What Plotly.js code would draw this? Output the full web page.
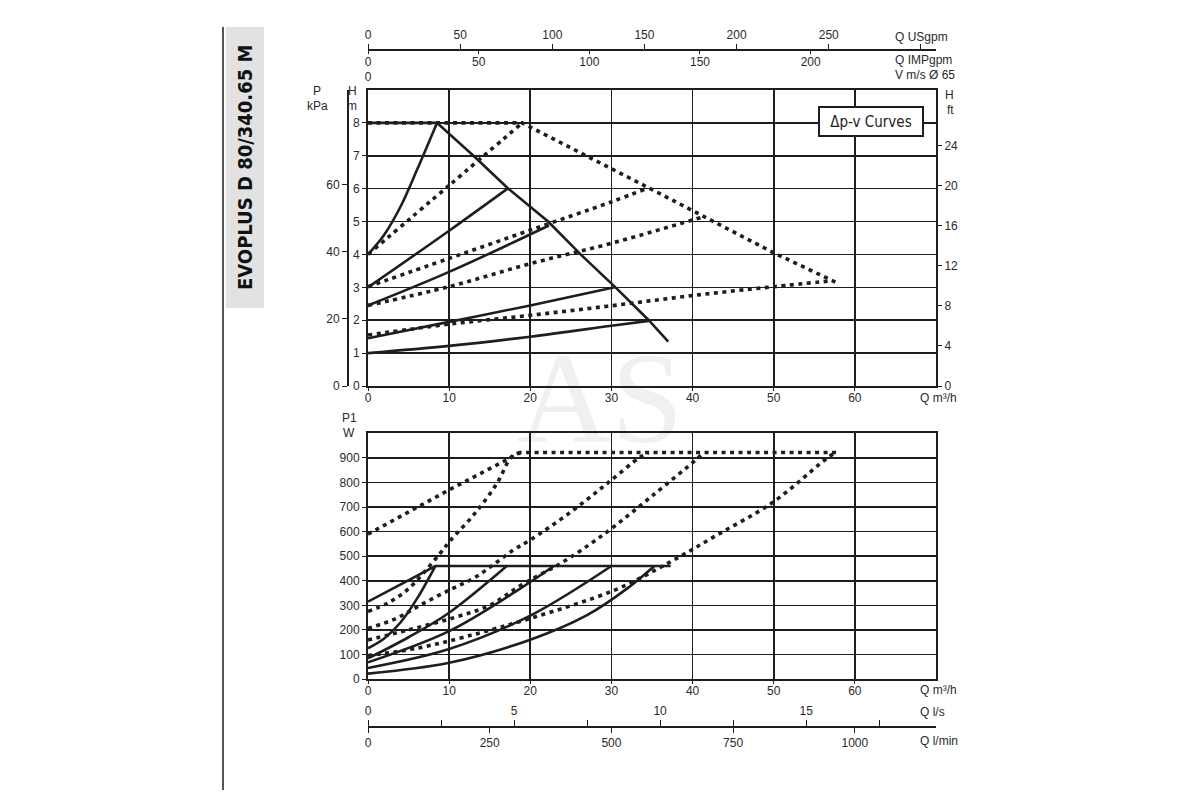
<!DOCTYPE html>
<html>
<head>
<meta charset="utf-8">
<script src="https://cdn.plot.ly/plotly-3.0.1.min.js"></script>
<style>
  html, body { margin: 0; padding: 0; background: #fff; }
  #chart { width: 1200px; height: 800px; }
</style>
</head>
<body>
<div id="chart"></div>
<script>
// ---- Q-H (top) : solid = single pump, dotted = twin pump ----
var qMaxS = [0, 8.5, 13.0, 17.3, 22.2, 26.2, 30.5, 34.6, 37.0];
var hMaxS = [8, 8, 7, 6, 5, 4, 3, 2, 1.35];
var qS4 = [0, 2, 4, 6, 8.5];
var hS4 = [4, 4.6, 5.45, 6.55, 8];
var qS3 = [0, 10, 17.2];
var hS3 = [3, 4.72, 6];
var qS245 = [0, 10, 22.3];
var hS245 = [2.45, 3.47, 4.88];
var qS145 = [0, 10, 20, 30.4];
var hS145 = [1.45, 1.95, 2.45, 3.0];
var qS1 = [0, 10, 20, 30, 34.6];
var hS1 = [1, 1.22, 1.5, 1.83, 1.98];

var qMaxD = [0, 19, 34.4, 50, 57.7];
var hMaxD = [8, 8, 6.05, 4.05, 3.15];
var qD4 = [0, 10, 19];
var hD4 = [4, 6.1, 8];
var qD3 = [0, 10, 20, 30, 34.3];
var hD3 = [3.02, 3.88, 4.74, 5.6, 6.0];
var qD245 = [0, 10, 20, 30, 41.4];
var hD245 = [2.45, 3.02, 3.72, 4.34, 5.15];
var qD15 = [0, 10, 20, 30, 40, 50, 57.2];
var hD15 = [1.55, 1.88, 2.15, 2.44, 2.75, 3.02, 3.2];

// ---- Q-P1 (bottom) ----
var qPMaxS = [0, 8.3, 37.3];
var pPMaxS = [315, 460, 460];
var qP4 = [0, 2, 4, 6, 8.3];
var pP4 = [125, 165, 230, 325, 460];
var qP3 = [0, 5, 10, 17.1];
var pP3 = [84, 170, 270, 460];
var qP245 = [0, 10, 18.8, 22.9];
var pP245 = [68, 195, 369, 460];
var qP145 = [0, 10, 20, 30];
var pP145 = [45, 122, 258, 460];
var qP1 = [0, 10, 20, 27, 32, 35.3];
var pP1 = [22, 66, 160, 260, 370, 460];

var qPMaxD = [0, 10, 18.8, 57.7];
var pPMaxD = [590, 770, 922, 922];
var qPD4 = [0, 2.5, 4.8, 6.8, 8.9, 10.2, 13.2, 15.9, 17.7, 18.8];
var pPD4 = [275, 310, 362, 430, 512, 566, 675, 797, 905, 922];
var qPD3 = [0, 3.5, 6.4, 10, 13, 15.4, 17.9, 20, 25, 29.5, 33.6, 34.6];
var pPD3 = [206, 247, 300, 362, 410, 464, 525, 566, 680, 797, 905, 922];
var qPD245 = [0, 5, 10.6, 15, 19, 23.7, 27.4, 30.3, 35, 40.4, 41.4];
var pPD245 = [159, 200, 250, 300, 385, 470, 550, 620, 745, 892, 922];
var qPD15 = [0, 6, 12, 20, 30.4, 37.1, 43, 50, 56.8, 57.7];
var pPD15 = [95, 125, 172, 247, 362, 474, 586, 722, 905, 922];

// ---- axis ticks ----
var qTicks = [0, 10, 20, 30, 40, 50, 60];
var hTicks = [0, 1, 2, 3, 4, 5, 6, 7, 8];
var kpaTicks = [0, 20, 40, 60];
var ftTicks = [0, 4, 8, 12, 16, 20, 24];
var usgpmTicks = [0, 50, 100, 150, 200, 250, 300];
var usgpmLabels = ['0', '50', '100', '150', '200', '250', ''];
var impTicks = [0, 50, 100, 150, 200];
var wTicks = [0, 100, 200, 300, 400, 500, 600, 700, 800, 900];
var lsTicks = [0, 2.5, 5, 7.5, 10, 12.5, 15, 17.5];
var lsLabels = ['0', '', '5', '', '10', '', '15', ''];
var lminTicks = [0, 250, 500, 750, 1000];

var Q_MAX = 70;   // m3/h at right frame
var H_MAX = 9;    // m at top frame

function X(px) { return px / 1200; }
function Y(py) { return 1 - py / 800; }

var INK = '#1e1e1e';
var FONT = 'Liberation Sans, Arial, sans-serif';
var NARROW = 'DejaVu Sans Condensed, Liberation Sans Narrow, sans-serif';

function solid(x, y, xa, ya, shape) {
  return { x: x, y: y, xaxis: xa, yaxis: ya, type: 'scatter', mode: 'lines',
    line: { color: INK, width: 2.6, shape: shape || 'spline', smoothing: 1 },
    hoverinfo: 'skip', showlegend: false };
}
function dotted(x, y, xa, ya, shape) {
  return { x: x, y: y, xaxis: xa, yaxis: ya, type: 'scatter', mode: 'lines',
    line: { color: INK, width: 3.6, dash: '4px,4.5px', shape: shape || 'spline', smoothing: 1 },
    hoverinfo: 'skip', showlegend: false };
}
// empty trace so that a secondary scale axis gets drawn
function carrier(xa, ya) {
  return { x: [null], y: [null], xaxis: xa, yaxis: ya, type: 'scatter', mode: 'markers',
    hoverinfo: 'skip', showlegend: false };
}

var data = [
  solid(qMaxS, hMaxS, 'x', 'y', 'linear'),
  solid(qS4, hS4, 'x', 'y'),
  solid(qS3, hS3, 'x', 'y'),
  solid(qS245, hS245, 'x', 'y'),
  solid(qS145, hS145, 'x', 'y'),
  solid(qS1, hS1, 'x', 'y'),
  dotted(qMaxD, hMaxD, 'x', 'y', 'linear'),
  dotted(qD4, hD4, 'x', 'y'),
  dotted(qD3, hD3, 'x', 'y'),
  dotted(qD245, hD245, 'x', 'y'),
  dotted(qD15, hD15, 'x', 'y'),

  solid(qPMaxS, pPMaxS, 'x5', 'y4', 'linear'),
  solid(qP4, pP4, 'x5', 'y4'),
  solid(qP3, pP3, 'x5', 'y4'),
  solid(qP245, pP245, 'x5', 'y4'),
  solid(qP145, pP145, 'x5', 'y4'),
  solid(qP1, pP1, 'x5', 'y4'),
  dotted(qPMaxD, pPMaxD, 'x5', 'y4', 'linear'),
  dotted(qPD4, pPD4, 'x5', 'y4'),
  dotted(qPD3, pPD3, 'x5', 'y4'),
  dotted(qPD245, pPD245, 'x5', 'y4'),
  dotted(qPD15, pPD15, 'x5', 'y4'),

  carrier('x', 'y2'), carrier('x', 'y3'),
  carrier('x2', 'y'), carrier('x3', 'y'), carrier('x4', 'y'),
  carrier('x6', 'y4'), carrier('x7', 'y4')
];

var tickFont = { family: FONT, size: 12, color: '#2a2a2a' };
var xDom = [X(368), X(936)];

function note(text, px, py, xanchor) {
  return { text: text, x: X(px), y: Y(py), xref: 'paper', yref: 'paper', showarrow: false,
    xanchor: xanchor || 'center', yanchor: 'middle', font: tickFont };
}

var layout = {
  width: 1200, height: 800,
  margin: { l: 0, r: 0, t: 0, b: 0 },
  paper_bgcolor: '#ffffff', plot_bgcolor: 'rgba(0,0,0,0)',
  showlegend: false,
  font: { family: FONT, color: INK },

  // top chart
  xaxis: {
    domain: xDom, anchor: 'y', range: [0, Q_MAX], tickvals: qTicks,
    showgrid: true, gridcolor: INK, gridwidth: 1.6, zeroline: false,
    showline: true, mirror: true, linecolor: INK, linewidth: 2,
    ticks: 'outside', ticklen: 3, tickcolor: INK, tickfont: tickFont, ticklabelstandoff: -3
  },
  yaxis: {
    domain: [Y(386), Y(90)], anchor: 'x', range: [0, H_MAX], tickvals: hTicks,
    showgrid: true, gridcolor: INK, gridwidth: 1.6, zeroline: false,
    showline: true, mirror: true, linecolor: INK, linewidth: 2,
    ticks: 'outside', ticklen: 4, tickcolor: INK, tickfont: tickFont
  },
  yaxis2: {
    overlaying: 'y', anchor: 'free', position: X(347), side: 'left',
    range: [0, H_MAX * 9.80665], tickvals: kpaTicks,
    showgrid: false, zeroline: false, showline: true, linecolor: INK, linewidth: 1.6,
    ticks: 'outside', ticklen: 5, tickcolor: INK, tickfont: tickFont
  },
  yaxis3: {
    overlaying: 'y', anchor: 'x', side: 'right',
    range: [0, H_MAX * 3.28084], tickvals: ftTicks,
    showgrid: false, zeroline: false, showline: false,
    ticks: 'outside', ticklen: 5, tickcolor: INK, tickfont: tickFont
  },
  xaxis2: {
    overlaying: 'x', anchor: 'free', position: Y(49), side: 'top',
    range: [0, Q_MAX * 4.40287], tickvals: usgpmTicks, ticktext: usgpmLabels,
    showgrid: false, zeroline: false, showline: true, linecolor: INK, linewidth: 1.6,
    ticks: 'outside', ticklen: 5, tickcolor: INK, tickfont: tickFont
  },
  xaxis3: {
    overlaying: 'x', anchor: 'free', position: Y(49), side: 'bottom',
    range: [0, Q_MAX * 3.66615], tickvals: impTicks,
    showgrid: false, zeroline: false, showline: false,
    ticks: 'outside', ticklen: 4, tickcolor: INK, tickfont: tickFont, ticklabelstandoff: -2
  },
  xaxis4: {
    overlaying: 'x', anchor: 'free', position: Y(68), side: 'bottom',
    range: [0, Q_MAX / 3600 / (Math.PI * 0.0325 * 0.0325)], tickvals: [0],
    showgrid: false, zeroline: false, showline: false, ticks: '',
    tickfont: tickFont
  },

  // bottom chart
  xaxis5: {
    domain: xDom, anchor: 'y4', range: [0, Q_MAX], tickvals: qTicks,
    showgrid: true, gridcolor: INK, gridwidth: 1.6, zeroline: false,
    showline: true, mirror: true, linecolor: INK, linewidth: 2,
    ticks: 'outside', ticklen: 3, tickcolor: INK, tickfont: tickFont, ticklabelstandoff: -3
  },
  yaxis4: {
    domain: [Y(679), Y(433.4)], anchor: 'x5', range: [0, 1000], tickvals: wTicks,
    showgrid: true, gridcolor: INK, gridwidth: 1.6, zeroline: false,
    showline: true, mirror: true, linecolor: INK, linewidth: 2,
    ticks: 'outside', ticklen: 4, tickcolor: INK, tickfont: tickFont
  },
  xaxis6: {
    overlaying: 'x5', anchor: 'free', position: Y(726), side: 'top',
    range: [0, Q_MAX / 3.6], tickvals: lsTicks, ticktext: lsLabels,
    showgrid: false, zeroline: false, showline: true, linecolor: INK, linewidth: 1.6,
    ticks: 'outside', ticklen: 6, tickcolor: INK, tickfont: tickFont
  },
  xaxis7: {
    overlaying: 'x5', anchor: 'free', position: Y(726), side: 'bottom',
    range: [0, Q_MAX * 1000 / 60], tickvals: lminTicks,
    showgrid: false, zeroline: false, showline: false,
    ticks: 'outside', ticklen: 6, tickcolor: INK, tickfont: tickFont
  },

  shapes: [
    { type: 'rect', xref: 'paper', yref: 'paper', x0: X(226), x1: X(264), y0: Y(308), y1: Y(27),
      fillcolor: '#e2e2e2', line: { width: 0 }, layer: 'below' },
    { type: 'line', xref: 'paper', yref: 'paper', x0: X(223), x1: X(223), y0: Y(790), y1: Y(27),
      line: { color: '#555', width: 2 } }
  ],

  annotations: [
    { text: 'EVOPLUS D 80/340.65 M', textangle: -90, x: X(245), y: Y(168), xref: 'paper', yref: 'paper',
      xanchor: 'center', yanchor: 'middle', showarrow: false,
      font: { family: NARROW, size: 20, color: '#111', weight: 'bold' } },
    { text: 'AS', x: X(600), y: Y(398), xref: 'paper', yref: 'paper', xanchor: 'center', yanchor: 'middle',
      showarrow: false, font: { family: 'Liberation Serif, serif', size: 130, color: 'rgba(0,0,0,0.06)' } },
    { text: '\u0394p-v Curves', x: X(871), y: Y(122), xref: 'paper', yref: 'paper', showarrow: false,
      xanchor: 'center', yanchor: 'middle',
      width: 100, height: 25, borderpad: 1, bordercolor: INK, borderwidth: 2, bgcolor: '#ffffff',
      font: { family: NARROW, size: 15, color: INK } },

    note('Q USgpm', 893, 37, 'left'),
    note('Q IMPgpm', 893, 60, 'left'),
    note('V m/s \u00d8 65', 893, 75, 'left'),

    note('P', 317, 91),
    note('kPa', 317, 106),
    note('H', 352, 91),
    note('m', 352, 106),
    note('H', 949, 95),
    note('ft', 950, 110),
    note('Q m\u00b3/h', 918, 398, 'left'),

    note('P1', 349, 418),
    note('W', 349, 433),
    note('Q m\u00b3/h', 918, 690, 'left'),
    note('Q l/s', 918, 712, 'left'),
    note('Q l/min', 918, 741, 'left')
  ]
};

Plotly.newPlot('chart', data, layout, { staticPlot: true, displayModeBar: false });
</script>
</body>
</html>
